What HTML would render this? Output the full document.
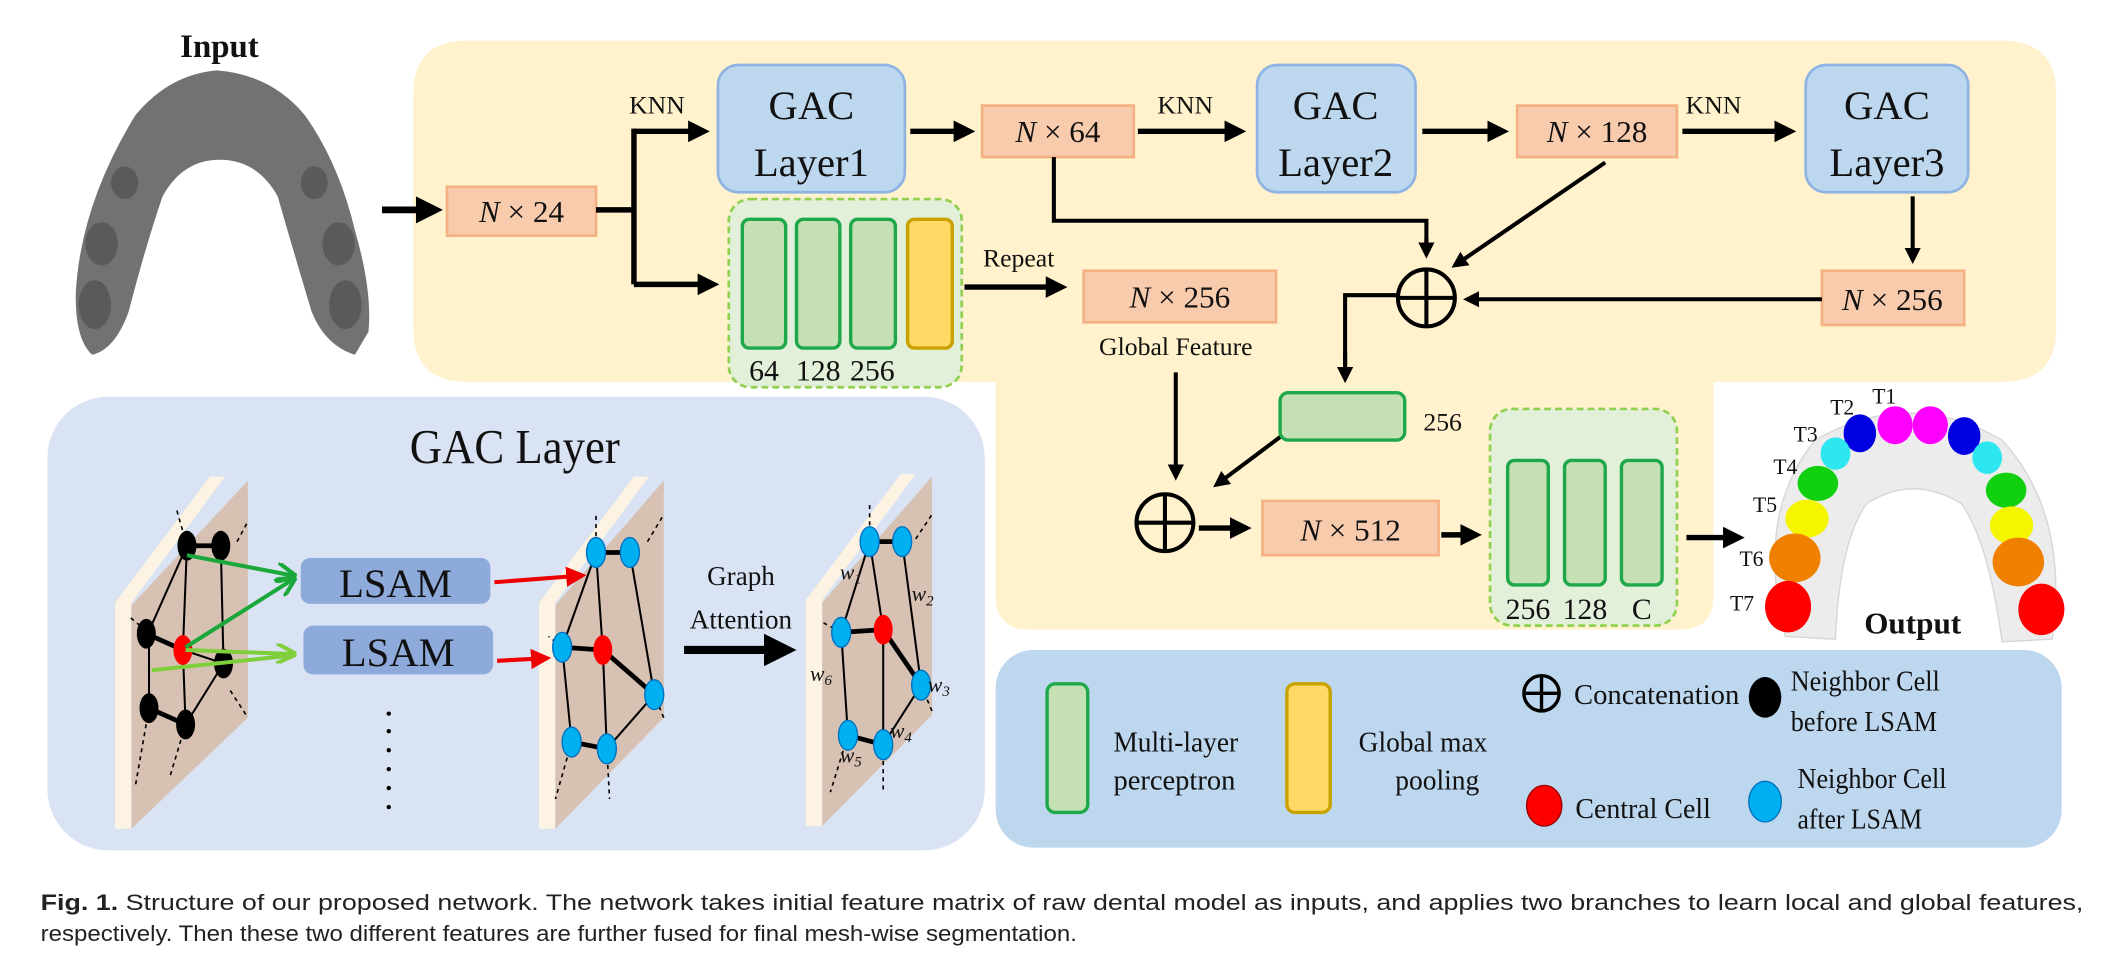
<!DOCTYPE html>
<html><head><meta charset="utf-8"><style>
html,body{margin:0;padding:0;background:#fff;}
svg{display:block;}
.s{font-family:"Liberation Serif",serif;fill:#111;}
.c{font-family:"Liberation Sans",sans-serif;fill:#222;font-size:16.5px;}
</style></head><body>
<svg width="2124" height="956" viewBox="0 0 1568 706" preserveAspectRatio="none" xmlns="http://www.w3.org/2000/svg">
<defs>
<marker id="a" markerWidth="4" markerHeight="4" refX="3" refY="2" orient="auto" markerUnits="strokeWidth"><path d="M0,0 L4,2 L0,4 z" fill="#000"/></marker>
<marker id="r" markerWidth="5" markerHeight="5" refX="4" refY="2.5" orient="auto" markerUnits="strokeWidth"><path d="M0,0 L5,2.5 L0,5 z" fill="#e00"/></marker>
<marker id="g" markerWidth="5" markerHeight="5" refX="4" refY="2.5" orient="auto" markerUnits="strokeWidth"><path d="M0,0 L5,2.5 L0,5" fill="none" stroke="#1aa83a" stroke-width="1"/></marker>
<marker id="lg" markerWidth="5" markerHeight="5" refX="4" refY="2.5" orient="auto" markerUnits="strokeWidth"><path d="M0,0 L5,2.5 L0,5" fill="none" stroke="#7fcf3c" stroke-width="1"/></marker>
</defs>
<!-- yellow panel -->
<path d="M345,30 H1478 Q1518,30 1518,70 V242 Q1518,282 1478,282 H1265 V440 Q1265,465 1240,465 H760 Q735,465 735,440 V282 H345 Q305,282 305,242 V70 Q305,30 345,30 Z" fill="#fff2cc"/>
<rect x="35" y="293" width="692" height="335" rx="45" fill="#dae3f3"/>
<rect x="735" y="480" width="787" height="146" rx="28" fill="#bdd7ee"/>

<!-- Input -->
<text x="162" y="42" class="s" font-size="24" font-weight="bold" text-anchor="middle" textLength="58" lengthAdjust="spacingAndGlyphs">Input</text>
<path d="M100,85 Q125,55 160,52 Q200,55 225,85 Q250,120 262,170 Q275,215 272,245 L262,262 Q240,255 230,230 Q215,180 205,145 Q190,118 162,118 Q135,118 120,145 Q108,180 95,230 Q85,258 68,262 Q55,250 56,215 Q60,150 100,85 Z" fill="#727272"/>
<g fill="#5a5a5a"><ellipse cx="75" cy="180" rx="12" ry="16"/><ellipse cx="70" cy="225" rx="12" ry="18"/><ellipse cx="250" cy="180" rx="12" ry="16"/><ellipse cx="255" cy="225" rx="12" ry="18"/><ellipse cx="92" cy="135" rx="10" ry="12"/><ellipse cx="232" cy="135" rx="10" ry="12"/></g>

<g fill="#f8cbad" stroke="#f4b183" stroke-width="2">
<rect x="330" y="138" width="110" height="36"/>
<rect x="725" y="78" width="112" height="38"/>
<rect x="1120" y="78" width="118" height="38"/>
<rect x="1345" y="200" width="105" height="40"/>
<rect x="800" y="200" width="142" height="38"/>
<rect x="932" y="370" width="130" height="40"/>
</g>
<g class="s" font-size="23" text-anchor="middle">
<text x="385" y="164"><tspan font-style="italic">N</tspan> × 24</text>
<text x="781" y="105"><tspan font-style="italic">N</tspan> × 64</text>
<text x="1179" y="105"><tspan font-style="italic">N</tspan> × 128</text>
<text x="1397" y="229"><tspan font-style="italic">N</tspan> × 256</text>
<text x="871" y="227"><tspan font-style="italic">N</tspan> × 256</text>
<text x="997" y="399"><tspan font-style="italic">N</tspan> × 512</text>
</g>

<g fill="#bdd7ee" stroke="#8fb4e3" stroke-width="2">
<rect x="530" y="48" width="138" height="94" rx="15"/>
<rect x="928" y="48" width="117" height="94" rx="15"/>
<rect x="1333" y="48" width="120" height="94" rx="15"/>
</g>
<g class="s" font-size="30" text-anchor="middle">
<text x="599" y="88">GAC</text><text x="599" y="130">Layer1</text>
<text x="986" y="88">GAC</text><text x="986" y="130">Layer2</text>
<text x="1393" y="88">GAC</text><text x="1393" y="130">Layer3</text>
</g>
<g class="s" font-size="19" text-anchor="middle">
<text x="485" y="84">KNN</text><text x="875" y="84">KNN</text><text x="1265" y="84">KNN</text>
<text x="752" y="197">Repeat</text>
<text x="868" y="262">Global Feature</text>
<text x="1065" y="318">256</text>
</g>

<g stroke="#000" stroke-width="4" fill="none">
<line x1="282" y1="155" x2="322" y2="155" stroke-width="5" marker-end="url(#a)"/>
<path d="M440,155 H468 M468,95 V210"/>
<line x1="468" y1="97" x2="520" y2="97" marker-end="url(#a)"/>
<line x1="468" y1="210" x2="527" y2="210" marker-end="url(#a)"/>
<line x1="672" y1="97" x2="716" y2="97" marker-end="url(#a)"/>
<line x1="840" y1="97" x2="916" y2="97" marker-end="url(#a)"/>
<line x1="1050" y1="97" x2="1110" y2="97" marker-end="url(#a)"/>
<line x1="1242" y1="97" x2="1322" y2="97" marker-end="url(#a)"/>
<line x1="712" y1="212" x2="784" y2="212" marker-end="url(#a)"/>
<line x1="1064" y1="395" x2="1090" y2="395" marker-end="url(#a)"/>
<line x1="885" y1="390" x2="920" y2="390" marker-end="url(#a)"/>
</g>
<g stroke="#000" stroke-width="3" fill="none">
<path d="M778,116 V163 H1053 V186" />
<line x1="1053" y1="176" x2="1053" y2="188" marker-end="url(#a)"/>
<line x1="1185" y1="120" x2="1074" y2="196" marker-end="url(#a)"/>
<line x1="1412" y1="145" x2="1412" y2="192" marker-end="url(#a)"/>
<line x1="1345" y1="221" x2="1083" y2="221" marker-end="url(#a)"/>
<path d="M1031,218 H993 V270"/>
<line x1="993" y1="260" x2="993" y2="280" marker-end="url(#a)"/>
<line x1="868" y1="275" x2="868" y2="352" marker-end="url(#a)"/>
<line x1="946" y1="322" x2="898" y2="358" marker-end="url(#a)"/>
</g>
<g stroke="#000" stroke-width="3" fill="none">
<circle cx="1053" cy="220" r="21"/><path d="M1032,220 H1074 M1053,199 V241"/>
<circle cx="860" cy="386" r="21"/><path d="M839,386 H881 M860,365 V407"/>
</g>

<rect x="538" y="147" width="172" height="139" rx="16" fill="#e2efd9" stroke="#92d050" stroke-width="2" stroke-dasharray="5,3"/>
<g fill="#c5e0b4" stroke="#1ea84a" stroke-width="2.5">
<rect x="548" y="162" width="32" height="95" rx="5"/>
<rect x="588" y="162" width="32" height="95" rx="5"/>
<rect x="628" y="162" width="33" height="95" rx="5"/>
<rect x="945" y="290" width="92" height="35" rx="6"/>
</g>
<rect x="670" y="162" width="33" height="95" rx="5" fill="#ffd966" stroke="#c9a200" stroke-width="2.5"/>
<g class="s" font-size="22" text-anchor="middle"><text x="564" y="281">64</text><text x="604" y="281">128</text><text x="644" y="281">256</text></g>

<rect x="1100" y="302" width="138" height="160" rx="16" fill="#e2efd9" stroke="#92d050" stroke-width="2" stroke-dasharray="5,3"/>
<g fill="#c5e0b4" stroke="#1ea84a" stroke-width="2.5">
<rect x="1113" y="340" width="30" height="92" rx="5"/>
<rect x="1155" y="340" width="30" height="92" rx="5"/>
<rect x="1197" y="340" width="30" height="92" rx="5"/>
</g>
<g class="s" font-size="22" text-anchor="middle"><text x="1128" y="457">256</text><text x="1170" y="457">128</text><text x="1212" y="457">C</text></g>

<!-- Output teeth -->
<rect x="1265" y="292" width="268" height="180" fill="#fff"/>
<path d="M1318,470 Q1295,380 1340,325 Q1410,285 1478,325 Q1528,380 1515,472 L1478,474 Q1468,400 1448,372 Q1412,350 1378,372 Q1358,400 1355,472 Z" fill="#ececec" stroke="#d6d6d6"/>
<g>
<ellipse cx="1399" cy="314" rx="13" ry="14" fill="#f0f"/><ellipse cx="1425" cy="314" rx="13" ry="14" fill="#f0f"/>
<ellipse cx="1373" cy="320" rx="12" ry="14" fill="#0000e0"/><ellipse cx="1450" cy="322" rx="12" ry="14" fill="#0000e0"/>
<ellipse cx="1355" cy="335" rx="11" ry="12" fill="#2ee6f0"/><ellipse cx="1467" cy="338" rx="11" ry="12" fill="#2ee6f0"/>
<ellipse cx="1342" cy="357" rx="15" ry="13" fill="#10d010"/><ellipse cx="1481" cy="362" rx="15" ry="13" fill="#10d010"/>
<ellipse cx="1334" cy="383" rx="16" ry="14" fill="#f5f500"/><ellipse cx="1485" cy="388" rx="16" ry="14" fill="#f5f500"/>
<ellipse cx="1325" cy="412" rx="19" ry="18" fill="#f08000"/><ellipse cx="1490" cy="415" rx="19" ry="18" fill="#f08000"/>
<ellipse cx="1320" cy="448" rx="17" ry="19" fill="#f00"/><ellipse cx="1507" cy="450" rx="17" ry="19" fill="#f00"/>
</g>
<line x1="1245" y1="397" x2="1284" y2="397" stroke="#000" stroke-width="4" marker-end="url(#a)"/>
<g class="s" font-size="16" text-anchor="middle">
<text x="1391" y="298">T1</text><text x="1360" y="306">T2</text><text x="1333" y="326">T3</text><text x="1318" y="350">T4</text><text x="1303" y="378">T5</text><text x="1293" y="418">T6</text><text x="1286" y="451">T7</text>
</g>
<text x="1412" y="468" class="s" font-size="23" font-weight="bold" text-anchor="middle">Output</text>

<!-- GAC Layer panel -->
<text x="380" y="342" class="s" font-size="36" text-anchor="middle" textLength="155" lengthAdjust="spacingAndGlyphs">GAC Layer</text>
<g>
<polygon points="85,445 155,352 166,352 97,445 97,612 85,612" fill="#fdf3e3"/>
<polygon points="97,447 183,355 183,530 97,612" fill="#d6c1b2"/>
<polygon points="398,445 468,352 479,352 410,445 410,612 398,612" fill="#fdf3e3"/>
<polygon points="410,447 490,355 490,530 410,612" fill="#d6c1b2"/>
<polygon points="595,443 665,350 676,350 607,443 607,610 595,610" fill="#fdf3e3"/>
<polygon points="607,445 688,352 688,528 607,610" fill="#d6c1b2"/>
</g>
<g stroke="#000" stroke-width="1.5" fill="none">
<path d="M138,403 L110,466 L110,523 M163,403 L165,490 L137,535 M138,403 L135,480 L137,535 M135,480 L165,490"/>
<path d="M440,408 L415,478 L422,548 M465,408 L483,513 L448,553 M440,408 L445,480 L448,553"/>
<path d="M642,400 L621,467 L626,543 M666,400 L680,506 L652,550 M642,400 L652,465 L652,550"/>
</g>
<g stroke="#000" stroke-width="3.5"><path d="M138,403 H163 M110,523 L137,535 M108,468 L135,480 M440,408 H465 M422,548 L448,553 M415,478 L445,480 M445,480 L483,513 M642,400 H666 M626,543 L652,550 M621,467 L652,465 M652,465 L680,506"/></g>
<g stroke="#000" stroke-width="1.2" stroke-dasharray="3,3"><path d="M138,403 L130,375 M175,400 L183,385 M108,466 L95,455 M170,510 L183,530 M137,535 L125,575 M110,523 L100,580 M440,408 L440,380 M478,400 L490,380 M415,478 L405,470 M490,530 L483,513 M448,553 L450,590 M422,548 L410,590 M642,400 L642,372 M676,398 L688,380 M621,467 L608,460 M688,525 L680,506 M652,550 L652,585 M626,543 L613,585"/></g>
<g fill="#000"><ellipse cx="138" cy="403" rx="7" ry="11"/><ellipse cx="163" cy="403" rx="7" ry="11"/><ellipse cx="108" cy="468" rx="7" ry="11"/><ellipse cx="165" cy="490" rx="7" ry="11"/><ellipse cx="110" cy="523" rx="7" ry="11"/><ellipse cx="137" cy="535" rx="7" ry="11"/></g>
<g fill="#00b0f0" stroke="#0070c0" stroke-width="1"><ellipse cx="440" cy="408" rx="7" ry="11"/><ellipse cx="465" cy="408" rx="7" ry="11"/><ellipse cx="415" cy="478" rx="7" ry="11"/><ellipse cx="483" cy="513" rx="7" ry="11"/><ellipse cx="422" cy="548" rx="7" ry="11"/><ellipse cx="448" cy="553" rx="7" ry="11"/>
<ellipse cx="642" cy="400" rx="7" ry="11"/><ellipse cx="666" cy="400" rx="7" ry="11"/><ellipse cx="621" cy="467" rx="7" ry="11"/><ellipse cx="680" cy="506" rx="7" ry="11"/><ellipse cx="626" cy="543" rx="7" ry="11"/><ellipse cx="652" cy="550" rx="7" ry="11"/></g>
<g fill="#f00"><ellipse cx="135" cy="480" rx="7" ry="11"/><ellipse cx="445" cy="480" rx="7" ry="11"/><ellipse cx="652" cy="465" rx="7" ry="11"/></g>
<g stroke-width="3" fill="none">
<line x1="138" y1="410" x2="216" y2="425" stroke="#1aa83a" marker-end="url(#g)"/>
<line x1="137" y1="478" x2="216" y2="428" stroke="#1aa83a" marker-end="url(#g)"/>
<line x1="137" y1="480" x2="216" y2="483" stroke="#7fcf3c" marker-end="url(#lg)"/>
<line x1="112" y1="495" x2="216" y2="484" stroke="#7fcf3c"/>
<line x1="365" y1="430" x2="430" y2="425" stroke="#e00" marker-end="url(#r)"/>
<line x1="367" y1="488" x2="404" y2="486" stroke="#e00" marker-end="url(#r)"/>
</g>
<g fill="#8eaadb"><rect x="222" y="412" width="140" height="34" rx="7"/><rect x="224" y="462" width="140" height="36" rx="7"/></g>
<g class="s" font-size="30" text-anchor="middle"><text x="292" y="441">LSAM</text><text x="294" y="492">LSAM</text></g>
<g class="s" font-size="20" text-anchor="middle"><text x="547" y="432">Graph</text><text x="547" y="464">Attention</text></g>
<line x1="505" y1="480" x2="582" y2="480" stroke="#000" stroke-width="6" marker-end="url(#a)"/>
<g fill="#000"><circle cx="287" cy="527" r="1.6"/><circle cx="287" cy="540" r="1.6"/><circle cx="287" cy="554" r="1.6"/><circle cx="287" cy="568" r="1.6"/><circle cx="287" cy="582" r="1.6"/><circle cx="287" cy="596" r="1.6"/></g>
<g class="s" font-size="16" font-style="italic">
<text x="620" y="428">w<tspan font-size="11" dy="3">1</tspan></text>
<text x="673" y="444">w<tspan font-size="11" dy="3">2</tspan></text>
<text x="598" y="503">w<tspan font-size="11" dy="3">6</tspan></text>
<text x="685" y="511">w<tspan font-size="11" dy="3">3</tspan></text>
<text x="657" y="545">w<tspan font-size="11" dy="3">4</tspan></text>
<text x="620" y="563">w<tspan font-size="11" dy="3">5</tspan></text>
</g>

<!-- Legend -->
<rect x="773" y="505" width="30" height="95" rx="6" fill="#c5e0b4" stroke="#1ea84a" stroke-width="2.5"/>
<rect x="950" y="505" width="32" height="95" rx="6" fill="#ffd966" stroke="#c9a200" stroke-width="2.5"/>
<g class="s" font-size="21">
<text x="822" y="555" textLength="92" lengthAdjust="spacingAndGlyphs">Multi-layer</text><text x="822" y="583" textLength="90" lengthAdjust="spacingAndGlyphs">perceptron</text>
<text x="1003" y="555" textLength="95" lengthAdjust="spacingAndGlyphs">Global max</text><text x="1030" y="583" textLength="62" lengthAdjust="spacingAndGlyphs">pooling</text>
<text x="1162" y="520" textLength="122" lengthAdjust="spacingAndGlyphs">Concatenation</text>
<text x="1322" y="510" textLength="110" lengthAdjust="spacingAndGlyphs">Neighbor Cell</text><text x="1322" y="540" textLength="108" lengthAdjust="spacingAndGlyphs">before LSAM</text>
<text x="1163" y="604" textLength="100" lengthAdjust="spacingAndGlyphs">Central Cell</text>
<text x="1327" y="582" textLength="110" lengthAdjust="spacingAndGlyphs">Neighbor Cell</text><text x="1327" y="612" textLength="92" lengthAdjust="spacingAndGlyphs">after LSAM</text>
</g>
<g stroke="#000" stroke-width="2.5" fill="none"><circle cx="1138" cy="512" r="13"/><path d="M1125,512 H1151 M1138,499 V525"/></g>
<ellipse cx="1303" cy="515" rx="12" ry="15" fill="#000"/>
<ellipse cx="1140" cy="595" rx="13" ry="15" fill="#f00" stroke="#900"/>
<ellipse cx="1303" cy="592" rx="12" ry="15" fill="#00b0f0" stroke="#0070c0"/>

<!-- Caption -->
<text x="30" y="672" class="c" textLength="1508" lengthAdjust="spacingAndGlyphs"><tspan font-weight="bold">Fig. 1.</tspan>  Structure of our proposed network. The network takes initial feature matrix of raw dental model as inputs, and applies two branches to learn local and global features,</text>
<text x="30" y="695" class="c" textLength="765" lengthAdjust="spacingAndGlyphs">respectively. Then these two different features are further fused for final mesh-wise segmentation.</text>
</svg>
</body></html>
